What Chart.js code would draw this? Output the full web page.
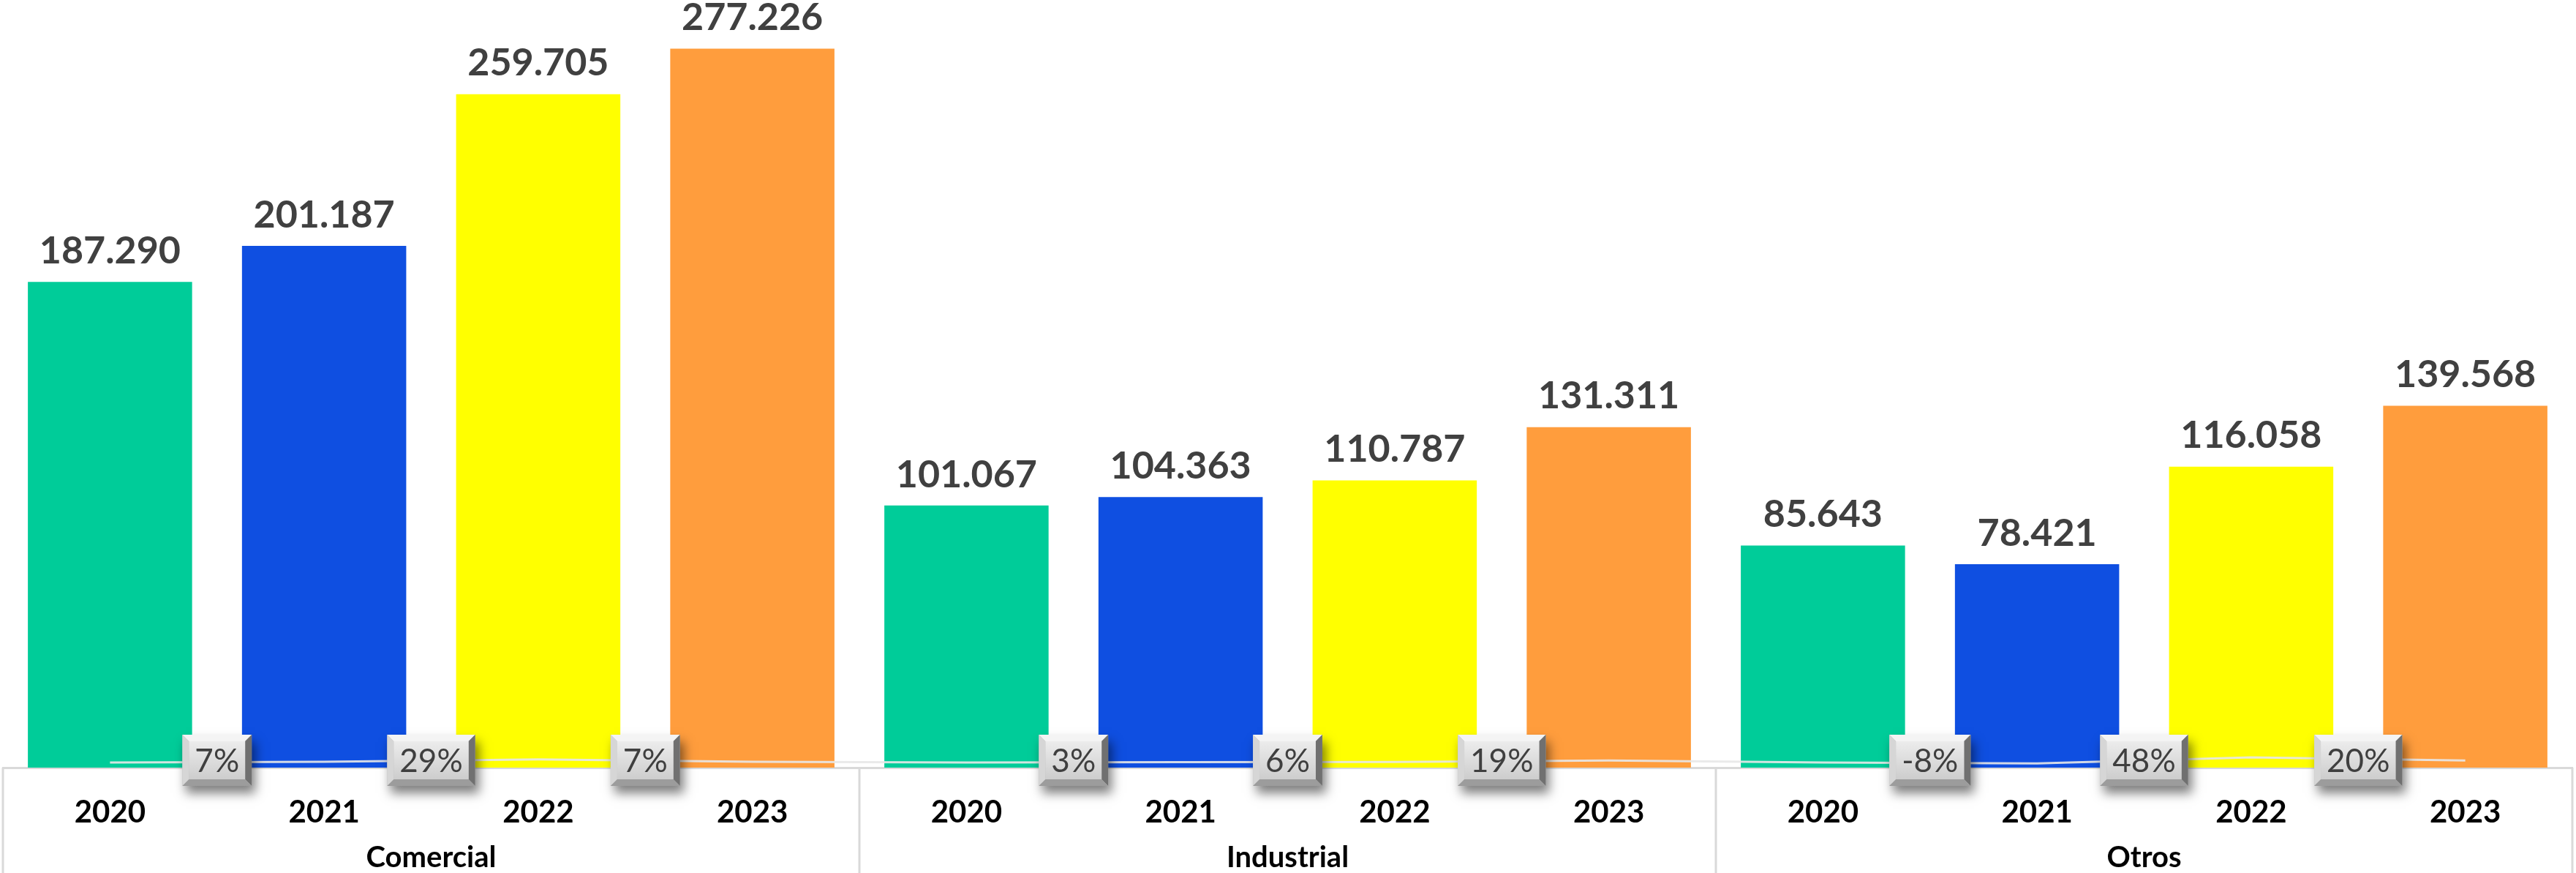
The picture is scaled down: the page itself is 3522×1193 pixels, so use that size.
<!DOCTYPE html>
<html>
<head>
<meta charset="utf-8">
<script src="https://cdn.jsdelivr.net/npm/chart.js@4"></script>
<style>
    html, body { margin: 0; padding: 0; background: #fff; }
    #wrap { width: 3522px; height: 1193px; }
</style>
</head>
<body>
<div id="wrap"><canvas id="chart"></canvas></div>
<script>
const groups = ['Comercial', 'Industrial', 'Otros'];
const years = ['2020', '2021', '2022', '2023'];
const comercial = [187290, 201187, 259705, 277226];
const industrial = [101067, 104363, 110787, 131311];
const otros = [85643, 78421, 116058, 139568];
const growthComercial = [7, 29, 7];
const growthIndustrial = [3, 6, 19];
const growthOtros = [-8, 48, 20];
const yearColors = ['#00CC99', '#0F4FE1', '#FFFF00', '#FF9D3D'];

const labels = [];
const values = [];
const colors = [];
const growthLine = [];
const growth = [growthComercial, growthIndustrial, growthOtros];
[comercial, industrial, otros].forEach((serie, k) => {
    serie.forEach((v, i) => {
        labels.push(years[i]);
        values.push(v);
        colors.push(yearColors[i]);
        growthLine.push(i === 0 ? 0 : growth[k][i - 1]);
    });
});

function formatNum(v) {
    return v.toString().replace(/\B(?=(\d{3})+(?!\d))/g, '.');
}

function bevelBox(ctx, cx, cy, w, h) {
    const x0 = cx - w / 2, y0 = cy - h / 2, x1 = x0 + w, y1 = y0 + h;
    const b = 9;
    ctx.save();
    ctx.shadowColor = 'rgba(0,0,0,0.5)';
    ctx.shadowBlur = 14;
    ctx.shadowOffsetX = 5;
    ctx.shadowOffsetY = 10;
    ctx.fillStyle = '#bdbdbd';
    ctx.fillRect(x0, y0, w, h);
    ctx.restore();

    const facet = (pts, color) => {
        ctx.beginPath();
        ctx.moveTo(pts[0][0], pts[0][1]);
        for (let i = 1; i < pts.length; i++) ctx.lineTo(pts[i][0], pts[i][1]);
        ctx.closePath();
        ctx.fillStyle = color;
        ctx.fill();
    };
    facet([[x0, y0], [x1, y0], [x1 - b, y0 + b], [x0 + b, y0 + b]], '#f4f4f4');
    facet([[x0, y0], [x0 + b, y0 + b], [x0 + b, y1 - b], [x0, y1]], '#d6d6d6');
    facet([[x1, y0], [x1, y1], [x1 - b, y1 - b], [x1 - b, y0 + b]], '#707070');
    facet([[x0, y1], [x0 + b, y1 - b], [x1 - b, y1 - b], [x1, y1]], '#9c9c9c');
    const g = ctx.createLinearGradient(0, y0 + b, 0, y1 - b);
    g.addColorStop(0, '#ececec');
    g.addColorStop(1, '#cdcdcd');
    ctx.fillStyle = g;
    ctx.fillRect(x0 + b, y0 + b, w - 2 * b, h - 2 * b);
}

const overlay = {
    id: 'overlay',
    afterDatasetsDraw(chart) {
        const ctx = chart.ctx;
        const x = chart.scales.x;
        const meta = chart.getDatasetMeta(1);
        const axisY = chart.chartArea.bottom;

        // value labels above bars
        ctx.save();
        ctx.font = 'bold 52px Lato';
        ctx.fillStyle = '#404040';
        ctx.textAlign = 'center';
        ctx.textBaseline = 'middle';
        meta.data.forEach((bar, i) => {
            ctx.fillText(formatNum(values[i]), bar.x, bar.y - 42);
        });
        ctx.restore();

        // group separators + group names
        const step = x.getPixelForValue(1) - x.getPixelForValue(0);
        ctx.save();
        ctx.strokeStyle = '#d9d9d9';
        ctx.lineWidth = 3;
        for (let k = 0; k <= groups.length; k++) {
            const px = x.getPixelForValue(k * 4) - step / 2;
            ctx.beginPath();
            ctx.moveTo(px, axisY);
            ctx.lineTo(px, chart.height);
            ctx.stroke();
        }
        ctx.font = 'bold 40px Lato';
        ctx.fillStyle = '#000';
        ctx.textAlign = 'center';
        ctx.textBaseline = 'middle';
        groups.forEach((g, k) => {
            const px = (x.getPixelForValue(k * 4) + x.getPixelForValue(k * 4 + 3)) / 2;
            ctx.fillText(g, px, 1172);
        });
        ctx.restore();

        // growth boxes between bars
        growth.forEach((arr, k) => {
            arr.forEach((g, j) => {
                const idx = k * 4 + j;
                const cx = (x.getPixelForValue(idx) + x.getPixelForValue(idx + 1)) / 2;
                const cy = axisY - 10;
                const txt = g + '%';
                ctx.save();
                ctx.font = '44px Lato';
                const tw = ctx.measureText(txt).width;
                bevelBox(ctx, cx, cy, tw + 34, 70);
                ctx.fillStyle = '#3f3f3f';
                ctx.textAlign = 'center';
                ctx.textBaseline = 'middle';
                ctx.fillText(txt, cx, cy + 2);
                ctx.restore();
            });
        });
    }
};

new Chart(document.getElementById('chart'), {
    type: 'bar',
    data: {
        labels: labels,
        datasets: [{
            type: 'line',
            data: growthLine,
            yAxisID: 'y2',
            borderColor: 'rgba(232,232,232,0.9)',
            borderWidth: 3,
            pointRadius: 0,
            tension: 0,
            order: 0
        }, {
            data: values,
            backgroundColor: colors,
            borderWidth: 0,
            barPercentage: 0.767,
            categoryPercentage: 1,
            order: 1
        }]
    },
    options: {
        responsive: true,
        maintainAspectRatio: false,
        animation: false,
        layout: { padding: { left: 4, right: 5, top: 0, bottom: 0 } },
        plugins: {
            legend: { display: false },
            tooltip: { enabled: false }
        },
        scales: {
            y: {
                display: false,
                min: 0,
                max: 296000
            },
            y2: {
                display: false,
                min: -48,
                max: 7200
            },
            x: {
                grid: { display: false },
                border: { color: '#d9d9d9', width: 3 },
                ticks: {
                    color: '#000',
                    font: { family: 'Lato', weight: 'bold', size: 42 },
                    padding: 28,
                    maxRotation: 0,
                    autoSkip: false
                },
                afterFit(scale) { scale.height = 144; }
            }
        }
    },
    plugins: [overlay]
});
</script>
</body>
</html>
